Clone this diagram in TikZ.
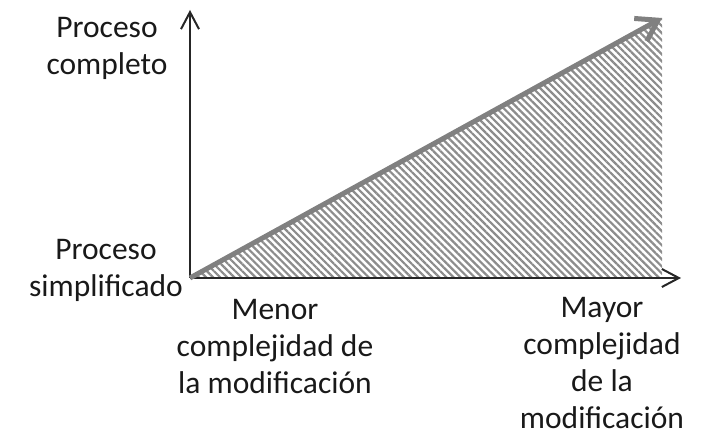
\documentclass[tikz,border=0pt]{standalone}
\usepackage{fontspec}
\setmainfont{Carlito}
\usetikzlibrary{arrows.meta,patterns.meta}
\tikzset{
  axisline/.style={draw=black!85,line width=2bp,-{Straight Barb[length=17bp,width=18bp]}},
  trendline/.style={draw=black!50,line width=5bp,-{Straight Barb[length=20bp,width=26bp]}},
  axislabel/.style={align=center,inner sep=0pt,text=black!90,font=\fontsize{31.5bp}{37bp}\selectfont,anchor=base}
}
\begin{document}
\begin{tikzpicture}[x=1bp,y=1bp]
\useasboundingbox (0,0) rectangle (707,439);
% Corners
\coordinate (o) at (190,161);
\coordinate (ytip) at (190,429);
\coordinate (xtip) at (681,161);
\coordinate (peak) at (662,421);
\coordinate (foot) at (662,161);
% Hatched area
\fill[pattern={Lines[angle=-45,distance=5bp,line width=2.2bp]},pattern color=black!45] (o) -- (peak) -- (foot) -- cycle;
% Axes
\draw[axisline] (o) -- (ytip);
\draw[axisline] (o) -- (xtip);
\draw[trendline] (o) -- (peak);
% Labels (anchored at the last line)
\node[axislabel] (full) at (107,364) {Proceso\\completo};
\node[axislabel] (simple) at (106,142) {Proceso\\simplificado};
\node[axislabel] (low) at (275,45) {Menor\\complejidad de\\la modificación};
\node[axislabel] (high) at (602,10) {Mayor\\complejidad\\de la\\modificación};
\end{tikzpicture}
\end{document}
